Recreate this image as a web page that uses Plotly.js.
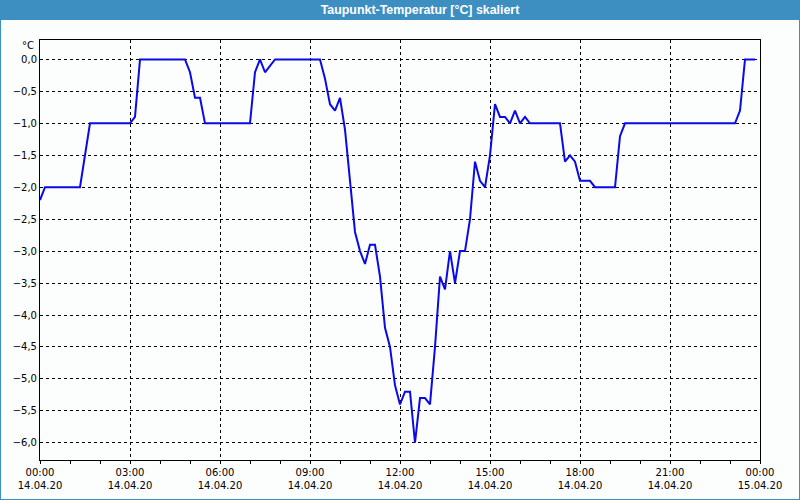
<!DOCTYPE html>
<html>
<head>
<meta charset="utf-8">
<script src="https://cdn.plot.ly/plotly-3.0.1.min.js"></script>
<style>html,body{margin:0;padding:0;background:#fcfdfd;}#chart{width:800px;height:500px;}</style>
</head>
<body>
<div id="chart"></div>
<script>
// Time of each reading (14.04.2020) and dew point in °C
const times = [
  "00:00","00:10","01:20","01:30","01:40","03:00","03:10","03:20","04:50","05:00",
  "05:10","05:20","05:30","07:00","07:10","07:20","07:30","07:50","09:20","09:30",
  "09:40","09:50","10:00","10:10","10:20","10:30","10:40","10:50","11:00","11:10",
  "11:20","11:30","11:40","11:50","12:00","12:10","12:20","12:30","12:40","12:50",
  "13:00","13:10","13:20","13:30","13:40","13:50","14:00","14:10","14:20","14:30",
  "14:40","14:50","15:00","15:10","15:20","15:30","15:40","15:50","16:00","16:10",
  "16:20","17:20","17:30","17:40","17:50","18:00","18:20","18:30","19:10","19:20",
  "19:30","23:10","23:20","23:30","23:50"
];
const dewPoint = [
  -2.2,-2.0,-2.0,-1.5,-1.0,-1.0,-0.9,0.0,0.0,-0.2,
  -0.6,-0.6,-1.0,-1.0,-0.2,0.0,-0.2,0.0,0.0,-0.3,
  -0.7,-0.8,-0.6,-1.1,-1.9,-2.7,-3.0,-3.2,-2.9,-2.9,
  -3.4,-4.2,-4.5,-5.1,-5.4,-5.2,-5.2,-6.0,-5.3,-5.3,
  -5.4,-4.5,-3.4,-3.6,-3.0,-3.5,-3.0,-3.0,-2.5,-1.6,
  -1.9,-2.0,-1.5,-0.7,-0.9,-0.9,-1.0,-0.8,-1.0,-0.9,
  -1.0,-1.0,-1.6,-1.5,-1.6,-1.9,-1.9,-2.0,-2.0,-1.2,
  -1.0,-1.0,-0.8,0.0,0.0
];
const tickVals = ["2020-04-14 00:00","2020-04-14 03:00","2020-04-14 06:00","2020-04-14 09:00","2020-04-14 12:00","2020-04-14 15:00","2020-04-14 18:00","2020-04-14 21:00","2020-04-15 00:00"];
const tickLabels = ["00:00<br>14.04.20","03:00<br>14.04.20","06:00<br>14.04.20","09:00<br>14.04.20","12:00<br>14.04.20","15:00<br>14.04.20","18:00<br>14.04.20","21:00<br>14.04.20","00:00<br>15.04.20"];
const yTickVals = [0,-0.5,-1,-1.5,-2,-2.5,-3,-3.5,-4,-4.5,-5,-5.5,-6];

const x = times.map(t => "2020-04-14 " + t);

const trace = {
  x: x, y: dewPoint, type: "scatter", mode: "lines",
  line: {color: "#0a0ae6", width: 2}, hoverinfo: "skip"
};

const W = 720, H = 420, L = 40, T = 40;
const px = v => (v - L) / W;
const py = v => (T + H - v) / H;

const layout = {
  width: 800, height: 500,
  margin: {l: 40, r: 40, t: 40, b: 40, pad: 0},
  paper_bgcolor: "#fcfdfd", plot_bgcolor: "#fcfdfd",
  separators: ",.",
  showlegend: false,
  font: {family: "DejaVu Sans, sans-serif", size: 10, color: "#000"},
  title: {
    text: "Taupunkt-Temperatur [°C] skaliert",
    font: {family: "Liberation Sans, Arial, sans-serif", size: 12.4, color: "#ffffff", weight: "bold"},
    x: 420/800, xanchor: "center", xref: "container", y: 1 - 10/500, yanchor: "middle", yref: "container"
  },
  xaxis: {
    type: "date",
    range: ["2020-04-14 00:00", "2020-04-15 00:00"],
    tickvals: tickVals, ticktext: tickLabels,
    ticks: "outside", ticklen: 3, tickcolor: "#000", tickwidth: 1,
    showline: true, linecolor: "#000", linewidth: 1, mirror: true,
    showgrid: true, gridcolor: "#000", gridwidth: 1, griddash: "3px,3px",
    minor: {dtick: 3600000, ticks: "outside", ticklen: 3, tickcolor: "#000", showgrid: false},
    zeroline: false,
    tickfont: {family: "DejaVu Sans, sans-serif", size: 10, color: "#000"}
  },
  yaxis: {
    range: [-6.27, 0.305],
    tickvals: yTickVals, tickformat: ".1f",
    ticks: "",
    showline: true, linecolor: "#000", linewidth: 1, mirror: true,
    showgrid: true, gridcolor: "#000", gridwidth: 1, griddash: "3px,3px",
    zeroline: false,
    tickfont: {family: "DejaVu Sans, sans-serif", size: 10, color: "#000"}
  },
  shapes: [
    {type: "rect", xref: "paper", yref: "paper", layer: "below",
     x0: px(0), x1: px(800), y0: py(20), y1: py(0),
     fillcolor: "#3d8fc2", line: {width: 0}},
    {type: "rect", xref: "paper", yref: "paper", layer: "below",
     x0: px(0), x1: px(800), y0: py(500), y1: py(0),
     fillcolor: "rgba(0,0,0,0)", line: {color: "#3d8fc2", width: 2}}
  ],
  annotations: [
    {text: "°C", xref: "paper", yref: "paper", x: 0, y: py(46), xanchor: "right", yanchor: "middle",
     xshift: -4, showarrow: false, font: {family: "DejaVu Sans, sans-serif", size: 10, color: "#000"}}
  ]
};

Plotly.newPlot("chart", [trace], layout, {staticPlot: true, displayModeBar: false});
</script>
</body>
</html>
